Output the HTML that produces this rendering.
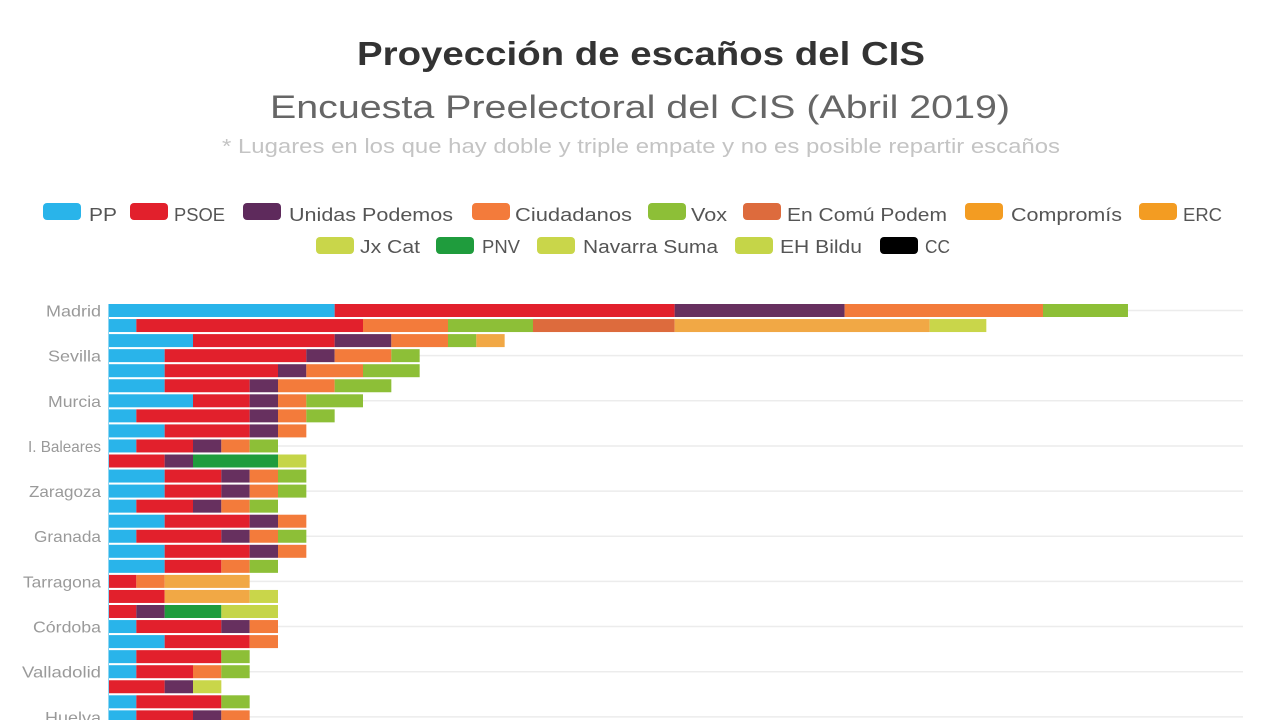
<!DOCTYPE html>
<html>
<head>
<meta charset="utf-8">
<style>
html,body{margin:0;padding:0;background:#fff;}
body{width:1280px;height:720px;overflow:hidden;}
svg{display:block;}
text{font-family:"Liberation Sans",sans-serif;}
.pp{fill:#29b4ea}.ps{fill:#e2202c}.up{fill:#67305f}.cs{fill:#f37b3b}.vx{fill:#8dbf37}
.ec{fill:#dd6b3d}.er{fill:#f1a845}.co{fill:#f1a845}.jx{fill:#c9d64a}.pn{fill:#1f9c3d}
.ns{fill:#c9d64a}.eh{fill:#c5d548}.cc{fill:#000}
.lt{font-size:18px;fill:#555}
.lb{font-size:16px;fill:#9a9a9a}
</style>
</head>
<body>
<svg width="1280" height="720" viewBox="0 0 1280 720" xmlns="http://www.w3.org/2000/svg">
<rect width="1280" height="720" fill="#fff"/>

<text x="641" y="65" text-anchor="middle" font-weight="bold" font-size="33" fill="#333" textLength="568" lengthAdjust="spacingAndGlyphs">Proyección de escaños del CIS</text>
<text x="640" y="118" text-anchor="middle" font-size="32" fill="#666" textLength="740" lengthAdjust="spacingAndGlyphs">Encuesta Preelectoral del CIS (Abril 2019)</text>
<text x="641" y="153" text-anchor="middle" font-size="20" fill="#c4c4c4" textLength="838" lengthAdjust="spacingAndGlyphs">* Lugares en los que hay doble y triple empate y no es posible repartir escaños</text>

<!-- legend row 1 -->
<rect x="43" y="203" width="38" height="17" rx="4" class="pp"/>
<text x="89" y="221" class="lt" textLength="28" lengthAdjust="spacingAndGlyphs">PP</text>
<rect x="130" y="203" width="38" height="17" rx="4" class="ps"/>
<text x="174" y="221" class="lt" textLength="51" lengthAdjust="spacingAndGlyphs">PSOE</text>
<rect x="243" y="203" width="38" height="17" rx="4" fill="#5e2a5c"/>
<text x="289" y="221" class="lt" textLength="164" lengthAdjust="spacingAndGlyphs">Unidas Podemos</text>
<rect x="472" y="203" width="38" height="17" rx="4" class="cs"/>
<text x="515" y="221" class="lt" textLength="117" lengthAdjust="spacingAndGlyphs">Ciudadanos</text>
<rect x="648" y="203" width="38" height="17" rx="4" class="vx"/>
<text x="691" y="221" class="lt" textLength="36" lengthAdjust="spacingAndGlyphs">Vox</text>
<rect x="743" y="203" width="38" height="17" rx="4" class="ec"/>
<text x="787" y="221" class="lt" textLength="160" lengthAdjust="spacingAndGlyphs">En Comú Podem</text>
<rect x="965" y="203" width="38" height="17" rx="4" fill="#f39c22"/>
<text x="1011" y="221" class="lt" textLength="111" lengthAdjust="spacingAndGlyphs">Compromís</text>
<rect x="1139" y="203" width="38" height="17" rx="4" fill="#f39c22"/>
<text x="1183" y="221" class="lt" textLength="39" lengthAdjust="spacingAndGlyphs">ERC</text>

<!-- legend row 2 -->
<rect x="316" y="237" width="38" height="17" rx="4" class="jx"/>
<text x="360" y="253" class="lt" textLength="60" lengthAdjust="spacingAndGlyphs">Jx Cat</text>
<rect x="436" y="237" width="38" height="17" rx="4" class="pn"/>
<text x="482" y="253" class="lt" textLength="38" lengthAdjust="spacingAndGlyphs">PNV</text>
<rect x="537" y="237" width="38" height="17" rx="4" class="ns"/>
<text x="583" y="253" class="lt" textLength="135" lengthAdjust="spacingAndGlyphs">Navarra Suma</text>
<rect x="735" y="237" width="38" height="17" rx="4" class="eh"/>
<text x="780" y="253" class="lt" textLength="82" lengthAdjust="spacingAndGlyphs">EH Bildu</text>
<rect x="880" y="237" width="38" height="17" rx="4" class="cc"/>
<text x="925" y="253" class="lt" textLength="25" lengthAdjust="spacingAndGlyphs">CC</text>

<!-- gridlines -->
<g stroke="#ececec" stroke-width="1.5">
<line x1="108" x2="1243" y1="310.5" y2="310.5"/>
<line x1="108" x2="1243" y1="355.65" y2="355.65"/>
<line x1="108" x2="1243" y1="400.8" y2="400.8"/>
<line x1="108" x2="1243" y1="445.95" y2="445.95"/>
<line x1="108" x2="1243" y1="491.1" y2="491.1"/>
<line x1="108" x2="1243" y1="536.25" y2="536.25"/>
<line x1="108" x2="1243" y1="581.4" y2="581.4"/>
<line x1="108" x2="1243" y1="626.55" y2="626.55"/>
<line x1="108" x2="1243" y1="671.7" y2="671.7"/>
<line x1="108" x2="1243" y1="716.85" y2="716.85"/>
</g>

<!-- labels -->
<g text-anchor="end">
<text x="101" y="316.5" class="lb" textLength="55" lengthAdjust="spacingAndGlyphs">Madrid</text>
<text x="101" y="361.6" class="lb" textLength="53" lengthAdjust="spacingAndGlyphs">Sevilla</text>
<text x="101" y="406.8" class="lb" textLength="53" lengthAdjust="spacingAndGlyphs">Murcia</text>
<text x="101" y="451.9" class="lb" textLength="73" lengthAdjust="spacingAndGlyphs">I. Baleares</text>
<text x="101" y="497.1" class="lb" textLength="72" lengthAdjust="spacingAndGlyphs">Zaragoza</text>
<text x="101" y="542.2" class="lb" textLength="67" lengthAdjust="spacingAndGlyphs">Granada</text>
<text x="101" y="587.4" class="lb" textLength="78" lengthAdjust="spacingAndGlyphs">Tarragona</text>
<text x="101" y="632.5" class="lb" textLength="68" lengthAdjust="spacingAndGlyphs">Córdoba</text>
<text x="101" y="677.7" class="lb" textLength="79" lengthAdjust="spacingAndGlyphs">Valladolid</text>
<text x="101" y="722.8" class="lb" textLength="56" lengthAdjust="spacingAndGlyphs">Huelva</text>
</g>

<!-- bars -->
<g transform="translate(108,0) scale(28.333,1)">
<rect x="0" y="304" width="8" height="13" class="pp"/><rect x="8" y="304" width="12" height="13" class="ps"/><rect x="20" y="304" width="6" height="13" class="up"/><rect x="26" y="304" width="7" height="13" class="cs"/><rect x="33" y="304" width="3" height="13" class="vx"/>
<rect x="0" y="319.05" width="1" height="13" class="pp"/><rect x="1" y="319.05" width="8" height="13" class="ps"/><rect x="9" y="319.05" width="3" height="13" class="cs"/><rect x="12" y="319.05" width="3" height="13" class="vx"/><rect x="15" y="319.05" width="5" height="13" class="ec"/><rect x="20" y="319.05" width="9" height="13" class="er"/><rect x="29" y="319.05" width="2" height="13" class="jx"/>
<rect x="0" y="334.1" width="3" height="13" class="pp"/><rect x="3" y="334.1" width="5" height="13" class="ps"/><rect x="8" y="334.1" width="2" height="13" class="up"/><rect x="10" y="334.1" width="2" height="13" class="cs"/><rect x="12" y="334.1" width="1" height="13" class="vx"/><rect x="13" y="334.1" width="1" height="13" class="co"/>
<rect x="0" y="349.15" width="2" height="13" class="pp"/><rect x="2" y="349.15" width="5" height="13" class="ps"/><rect x="7" y="349.15" width="1" height="13" class="up"/><rect x="8" y="349.15" width="2" height="13" class="cs"/><rect x="10" y="349.15" width="1" height="13" class="vx"/>
<rect x="0" y="364.2" width="2" height="13" class="pp"/><rect x="2" y="364.2" width="4" height="13" class="ps"/><rect x="6" y="364.2" width="1" height="13" class="up"/><rect x="7" y="364.2" width="2" height="13" class="cs"/><rect x="9" y="364.2" width="2" height="13" class="vx"/>
<rect x="0" y="379.25" width="2" height="13" class="pp"/><rect x="2" y="379.25" width="3" height="13" class="ps"/><rect x="5" y="379.25" width="1" height="13" class="up"/><rect x="6" y="379.25" width="2" height="13" class="cs"/><rect x="8" y="379.25" width="2" height="13" class="vx"/>
<rect x="0" y="394.3" width="3" height="13" class="pp"/><rect x="3" y="394.3" width="2" height="13" class="ps"/><rect x="5" y="394.3" width="1" height="13" class="up"/><rect x="6" y="394.3" width="1" height="13" class="cs"/><rect x="7" y="394.3" width="2" height="13" class="vx"/>
<rect x="0" y="409.35" width="1" height="13" class="pp"/><rect x="1" y="409.35" width="4" height="13" class="ps"/><rect x="5" y="409.35" width="1" height="13" class="up"/><rect x="6" y="409.35" width="1" height="13" class="cs"/><rect x="7" y="409.35" width="1" height="13" class="vx"/>
<rect x="0" y="424.4" width="2" height="13" class="pp"/><rect x="2" y="424.4" width="3" height="13" class="ps"/><rect x="5" y="424.4" width="1" height="13" class="up"/><rect x="6" y="424.4" width="1" height="13" class="cs"/>
<rect x="0" y="439.45" width="1" height="13" class="pp"/><rect x="1" y="439.45" width="2" height="13" class="ps"/><rect x="3" y="439.45" width="1" height="13" class="up"/><rect x="4" y="439.45" width="1" height="13" class="cs"/><rect x="5" y="439.45" width="1" height="13" class="vx"/>
<rect x="0" y="454.5" width="2" height="13" class="ps"/><rect x="2" y="454.5" width="1" height="13" class="up"/><rect x="3" y="454.5" width="3" height="13" class="pn"/><rect x="6" y="454.5" width="1" height="13" class="eh"/>
<rect x="0" y="469.55" width="2" height="13" class="pp"/><rect x="2" y="469.55" width="2" height="13" class="ps"/><rect x="4" y="469.55" width="1" height="13" class="up"/><rect x="5" y="469.55" width="1" height="13" class="cs"/><rect x="6" y="469.55" width="1" height="13" class="vx"/>
<rect x="0" y="484.6" width="2" height="13" class="pp"/><rect x="2" y="484.6" width="2" height="13" class="ps"/><rect x="4" y="484.6" width="1" height="13" class="up"/><rect x="5" y="484.6" width="1" height="13" class="cs"/><rect x="6" y="484.6" width="1" height="13" class="vx"/>
<rect x="0" y="499.65" width="1" height="13" class="pp"/><rect x="1" y="499.65" width="2" height="13" class="ps"/><rect x="3" y="499.65" width="1" height="13" class="up"/><rect x="4" y="499.65" width="1" height="13" class="cs"/><rect x="5" y="499.65" width="1" height="13" class="vx"/>
<rect x="0" y="514.7" width="2" height="13" class="pp"/><rect x="2" y="514.7" width="3" height="13" class="ps"/><rect x="5" y="514.7" width="1" height="13" class="up"/><rect x="6" y="514.7" width="1" height="13" class="cs"/>
<rect x="0" y="529.75" width="1" height="13" class="pp"/><rect x="1" y="529.75" width="3" height="13" class="ps"/><rect x="4" y="529.75" width="1" height="13" class="up"/><rect x="5" y="529.75" width="1" height="13" class="cs"/><rect x="6" y="529.75" width="1" height="13" class="vx"/>
<rect x="0" y="544.8" width="2" height="13" class="pp"/><rect x="2" y="544.8" width="3" height="13" class="ps"/><rect x="5" y="544.8" width="1" height="13" class="up"/><rect x="6" y="544.8" width="1" height="13" class="cs"/>
<rect x="0" y="559.85" width="2" height="13" class="pp"/><rect x="2" y="559.85" width="2" height="13" class="ps"/><rect x="4" y="559.85" width="1" height="13" class="cs"/><rect x="5" y="559.85" width="1" height="13" class="vx"/>
<rect x="0" y="574.9" width="1" height="13" class="ps"/><rect x="1" y="574.9" width="1" height="13" class="cs"/><rect x="2" y="574.9" width="3" height="13" class="er"/>
<rect x="0" y="589.95" width="2" height="13" class="ps"/><rect x="2" y="589.95" width="3" height="13" class="er"/><rect x="5" y="589.95" width="1" height="13" class="jx"/>
<rect x="0" y="605" width="1" height="13" class="ps"/><rect x="1" y="605" width="1" height="13" class="up"/><rect x="2" y="605" width="2" height="13" class="pn"/><rect x="4" y="605" width="2" height="13" class="eh"/>
<rect x="0" y="620.05" width="1" height="13" class="pp"/><rect x="1" y="620.05" width="3" height="13" class="ps"/><rect x="4" y="620.05" width="1" height="13" class="up"/><rect x="5" y="620.05" width="1" height="13" class="cs"/>
<rect x="0" y="635.1" width="2" height="13" class="pp"/><rect x="2" y="635.1" width="3" height="13" class="ps"/><rect x="5" y="635.1" width="1" height="13" class="cs"/>
<rect x="0" y="650.15" width="1" height="13" class="pp"/><rect x="1" y="650.15" width="3" height="13" class="ps"/><rect x="4" y="650.15" width="1" height="13" class="vx"/>
<rect x="0" y="665.2" width="1" height="13" class="pp"/><rect x="1" y="665.2" width="2" height="13" class="ps"/><rect x="3" y="665.2" width="1" height="13" class="cs"/><rect x="4" y="665.2" width="1" height="13" class="vx"/>
<rect x="0" y="680.25" width="2" height="13" class="ps"/><rect x="2" y="680.25" width="1" height="13" class="up"/><rect x="3" y="680.25" width="1" height="13" class="ns"/>
<rect x="0" y="695.3" width="1" height="13" class="pp"/><rect x="1" y="695.3" width="3" height="13" class="ps"/><rect x="4" y="695.3" width="1" height="13" class="vx"/>
<rect x="0" y="710.35" width="1" height="13" class="pp"/><rect x="1" y="710.35" width="2" height="13" class="ps"/><rect x="3" y="710.35" width="1" height="13" class="up"/><rect x="4" y="710.35" width="1" height="13" class="cs"/>
</g>
<line x1="108.5" x2="108.5" y1="304" y2="720" stroke="#8fd6f3" stroke-width="1"/>
</svg>
</body>
</html>
